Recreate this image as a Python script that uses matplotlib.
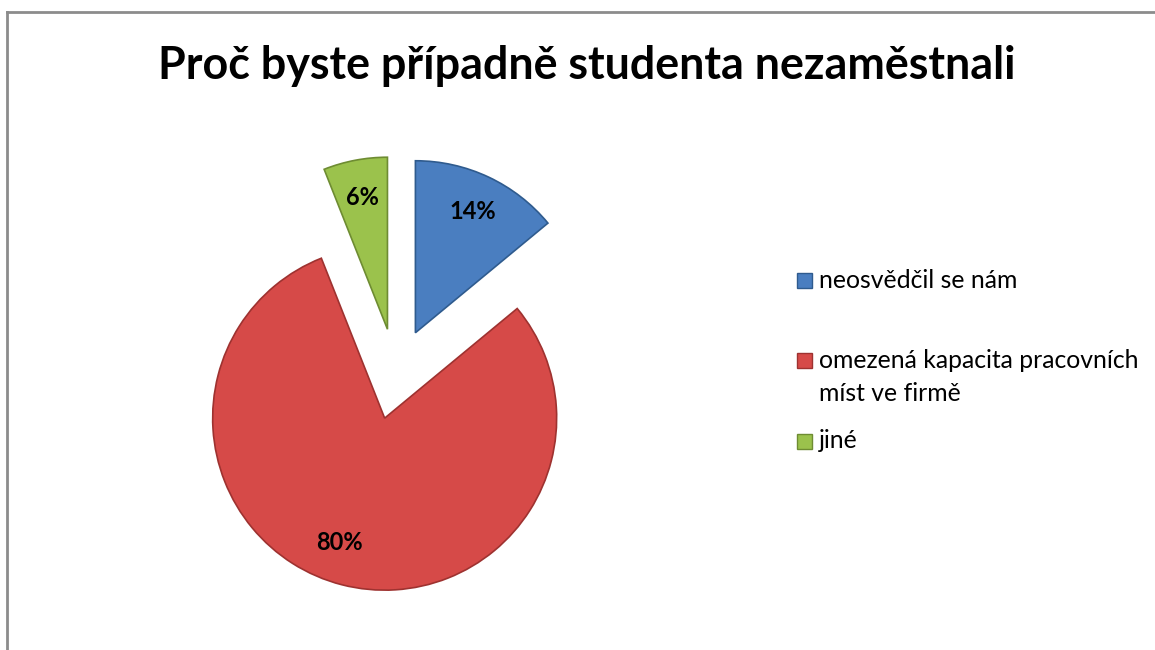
import matplotlib
matplotlib.use("Agg")
import matplotlib.pyplot as plt
from matplotlib.patches import Rectangle
from matplotlib.lines import Line2D

title = "Proč byste případně studenta nezaměstnali"
categories = ["neosvědčil se nám", "omezená kapacita pracovních\nmíst ve firmě", "jiné"]
shares = [14, 80, 6]
colors = ["#4A7EC0", "#D64A48", "#9BC24C"]
edges = ["#2F5B8E", "#9E3230", "#6E8C32"]

W, H = 1155, 650
fig = plt.figure(figsize=(W / 100, H / 100), dpi=100)
fig.patch.set_facecolor("white")

# chart border (top and left edge visible)
fig.add_artist(Line2D([7 / W, 1], [1 - 12 / H, 1 - 12 / H], color="#8C8C8C", lw=2))
fig.add_artist(Line2D([7 / W, 7 / W], [0, 1 - 12 / H], color="#8C8C8C", lw=2))

fig.text(587 / W, 1 - 66 / H, title, ha="center", va="center",
         fontsize=32.3, fontweight="bold", family=["Lato", "DejaVu Sans"])

# pie: center at (396, 374) px, radius 172 px
cx, cy, r = 396, 374, 172
half = 200
ax = fig.add_axes([(cx - half) / W, (H - cy - half) / H, 2 * half / W, 2 * half / H])
lim = half / r

wedges, texts, autotexts = ax.pie(
    shares, colors=colors, startangle=90, counterclock=False,
    explode=[0.265] * 3, autopct="%d%%", pctdistance=0.78,
    wedgeprops=dict(linewidth=1.2), frame=True)
ax.set_xlim(-lim, lim)
ax.set_ylim(-lim, lim)
ax.axis("off")
for w, ec in zip(wedges, edges):
    w.set_edgecolor(ec)
for t in autotexts:
    t.set_fontsize(17)
    t.set_fontweight("bold")
    t.set_family(["Lato", "DejaVu Sans"])
    t.set_color("black")
# Excel puts the big label a bit further left
x80, y80 = autotexts[1].get_position()
autotexts[1].set_position((x80 - 0.07, y80 + 0.03))

# legend, drawn by hand to keep Excel's spacing
leg_y = [280, 360, 441]
line_h = 33
for lab, col, ec, y in zip(categories, colors, edges, leg_y):
    fig.add_artist(Rectangle((797 / W, 1 - (y + 8) / H), 15 / W, 15 / H,
                             facecolor=col, edgecolor=ec, lw=1))
    for i, part in enumerate(lab.split("\n")):
        fig.text(819 / W, 1 - (y + i * line_h) / H, part, ha="left", va="center",
                 fontsize=17.8, family=["Lato", "DejaVu Sans"], color="black")

fig.savefig("out.png", dpi=100)
